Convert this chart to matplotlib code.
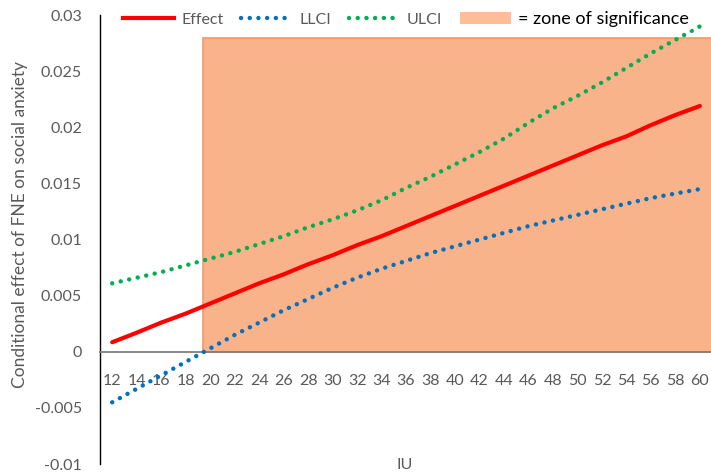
import matplotlib as mpl
mpl.use('Agg')
import matplotlib.pyplot as plt
from matplotlib.lines import Line2D
from matplotlib.patches import Patch, Rectangle

plt.rcParams['font.family'] = ['Lato', 'DejaVu Sans']

iu = [12, 14, 16, 18, 20, 22, 24, 26, 28, 30, 32, 34, 36,
      38, 40, 42, 44, 46, 48, 50, 52, 54, 56, 58, 60]
effect = [0.00085, 0.0017, 0.0026, 0.0034, 0.0043, 0.0052, 0.0061, 0.0069,
          0.0078, 0.0086, 0.0095, 0.0103, 0.0112, 0.0121, 0.0130, 0.0139,
          0.0148, 0.0157, 0.0166, 0.0175, 0.0184, 0.0192, 0.0202, 0.0211, 0.0219]
llci = [-0.0045, -0.0033, -0.0021, -0.0009, 0.0003, 0.0015, 0.0026, 0.0037,
        0.0047, 0.0057, 0.0066, 0.0074, 0.0081, 0.0088, 0.0094, 0.0100,
        0.0106, 0.0112, 0.0117, 0.0122, 0.0127, 0.0132, 0.0137, 0.0141, 0.0145]
ulci = [0.0061, 0.0066, 0.0071, 0.0077, 0.0083, 0.0089, 0.0096, 0.0103,
        0.0111, 0.0118, 0.0126, 0.0135, 0.0146, 0.0156, 0.0167, 0.0178,
        0.0190, 0.0204, 0.0217, 0.0228, 0.0240, 0.0253, 0.0266, 0.0278, 0.0290]
# zone of significance: from where LLCI crosses zero (IU ~ 19.4) upward
zone_start = 19.4
zone_top = 0.028
yticks = [-0.01, -0.005, 0, 0.005, 0.01, 0.015, 0.02, 0.025, 0.03]

gray = '#595959'
fig = plt.figure(figsize=(7.11, 4.76), dpi=100)
ax = fig.add_axes([0.1406, 0.0252, 0.861, 0.943])

xs = list(range(len(iu)))
zone_x = (zone_start - iu[0]) / (iu[1] - iu[0])
ax.add_patch(Rectangle((zone_x, 0), len(iu) - 0.5 - zone_x, zone_top,
                       facecolor='#F9B38A', edgecolor='#F29868', lw=1.2, zorder=1))

dots = (0, (0.01, 1.95))
ax.plot(xs, effect, color='#FF0000', lw=3, solid_capstyle='round', zorder=3)
ax.plot(xs, llci, color='#0070C0', lw=3.2, linestyle=dots, dash_capstyle='round', zorder=3)
ax.plot(xs, ulci, color='#00B050', lw=3.2, linestyle=dots, dash_capstyle='round', zorder=3)

ax.set_xlim(-0.5, len(iu) - 0.5)
ax.set_ylim(-0.01, 0.03)
ax.set_xticks(xs)
ax.set_xticklabels([str(v) for v in iu])
ax.set_yticks(yticks)
ax.set_yticklabels(['{:g}'.format(round(v, 3)) for v in yticks])
ax.tick_params(axis='x', length=0, pad=16, labelsize=11.5, labelcolor=gray)
ax.tick_params(axis='y', length=0, pad=13, labelsize=11.5, labelcolor=gray)

for s in ('top', 'right'):
    ax.spines[s].set_visible(False)
ax.spines['bottom'].set_position(('data', 0))
ax.spines['bottom'].set_color('#7F7F7F')
ax.spines['bottom'].set_linewidth(1.3)
ax.spines['left'].set_color('black')
ax.spines['left'].set_linewidth(1.0)

fig.text(20 / 711, 1 - 225 / 476, 'Conditional effect of FNE on social anxiety',
         rotation=90, ha='center', va='center', fontsize=12.5, color=gray)
fig.text(405 / 711, 1 - 465 / 476, 'IU', ha='center', va='center',
         fontsize=11.5, color=gray)

handles = [
    Line2D([], [], color='#FF0000', lw=3),
    Line2D([], [], color='#0070C0', lw=3.2, linestyle=dots, dash_capstyle='round'),
    Line2D([], [], color='#00B050', lw=3.2, linestyle=dots, dash_capstyle='round'),
    Patch(facecolor='#FDBE97', edgecolor='none'),
]
labels = ['Effect', 'LLCI', 'ULCI', '= zone of significance']
leg = ax.legend(handles, labels, loc='upper center', bbox_to_anchor=(0.5, 1.035),
                ncol=4, frameon=True, fontsize=11.5, handlelength=3.2,
                handletextpad=0.45, columnspacing=1.1, borderpad=0.2)
leg.get_frame().set_facecolor('white')
leg.get_frame().set_edgecolor('none')
leg.get_frame().set_alpha(1)
leg.set_zorder(5)
for i, t in enumerate(leg.get_texts()):
    t.set_color(gray if i < 3 else 'black')
leg.get_texts()[3].set_fontsize(13)

fig.savefig('out.png', dpi=100)
